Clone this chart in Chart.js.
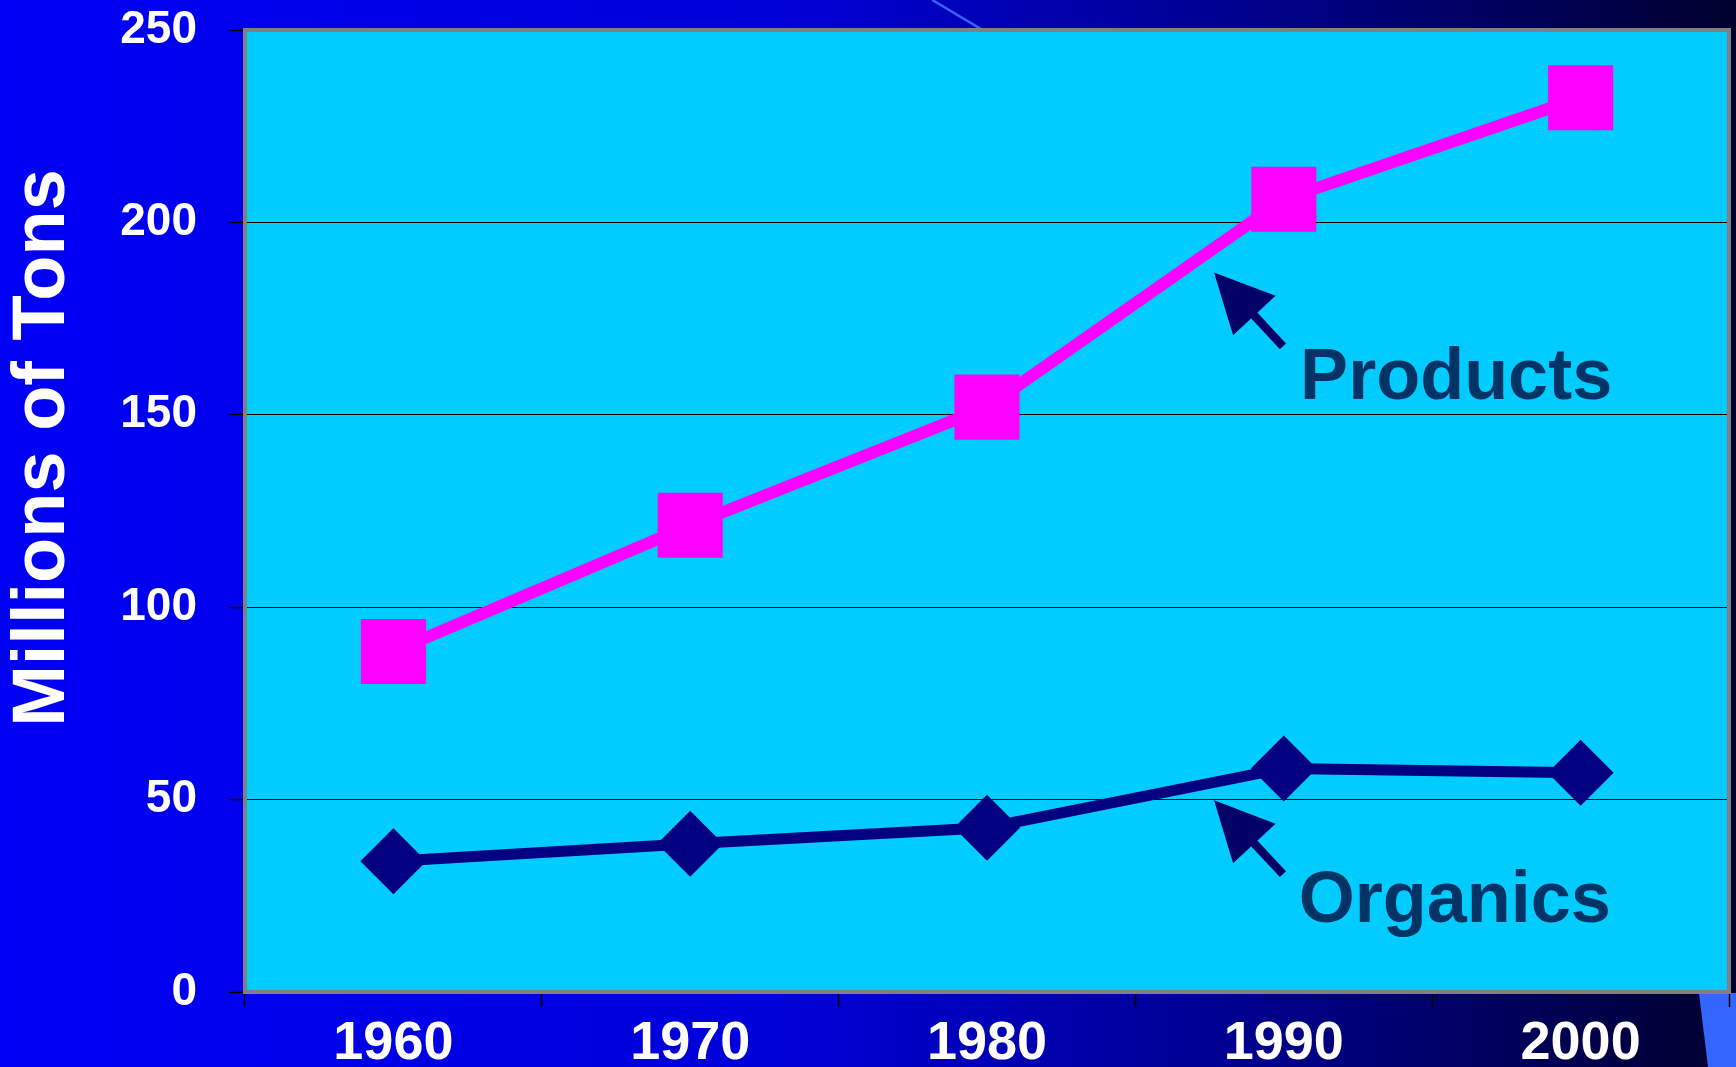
<!DOCTYPE html>
<html>
<head>
<meta charset="utf-8">
<script src="https://cdn.jsdelivr.net/npm/chart.js@4"></script>
<style>
  html, body { margin: 0; padding: 0; background: #000080; }
  #wrap { width: 1736px; height: 1067px; position: relative; }
  canvas { display: block; }
</style>
</head>
<body>
<div id="wrap"><canvas id="c" width="1736" height="1067"></canvas></div>
<script>
// ---- data ----
const categories = ['1960', '1970', '1980', '1990', '2000'];
const productsValues = [88.5, 121.3, 152.0, 206.0, 232.4];
const organicsValues = [34.0, 38.5, 42.7, 58.1, 57.0];
const seriesNames = ['Products', 'Organics'];
const yTickValues = [0, 50, 100, 150, 200, 250];
const yAxisTitle = 'Millions of Tons';

// ---- plugins (decoration / annotations) ----
const backgroundPlugin = {
  id: 'slideBackground',
  beforeDraw(chart) {
    const ctx = chart.ctx, W = chart.width, H = chart.height;
    ctx.save();
    const g = ctx.createLinearGradient(0, 0, W, 0);
    g.addColorStop(0, '#0000F6');
    g.addColorStop(0.45, '#0000D8');
    g.addColorStop(0.55, '#0000BC');
    g.addColorStop(0.75, '#000084');
    g.addColorStop(1, '#00002E');
    ctx.fillStyle = g;
    ctx.fillRect(0, 0, W, H);
    // decorative diagonal line at top
    ctx.strokeStyle = '#3366FF';
    ctx.lineWidth = 2.5;
    ctx.beginPath();
    ctx.moveTo(W * 0.537, 0);
    ctx.lineTo(W * 0.566, chart.chartArea.top);
    ctx.stroke();
    // decorative wedge bottom right
    ctx.fillStyle = '#3366FF';
    ctx.beginPath();
    ctx.moveTo(W - 37, chart.chartArea.bottom + 1);
    ctx.lineTo(W, chart.chartArea.bottom + 1);
    ctx.lineTo(W, H);
    ctx.lineTo(W - 28, H);
    ctx.closePath();
    ctx.fill();
    // plot area fill
    const a = chart.chartArea;
    ctx.fillStyle = '#00CCFF';
    ctx.fillRect(a.left, a.top, a.right - a.left, a.bottom - a.top);
    ctx.restore();
  },
  afterDatasetsDraw(chart) {
    const ctx = chart.ctx, a = chart.chartArea;
    ctx.save();
    ctx.strokeStyle = '#808080';
    ctx.lineWidth = 4;
    ctx.strokeRect(a.left, a.top, a.right - a.left, a.bottom - a.top);
    ctx.restore();
  }
};

const axisTitlePlugin = {
  id: 'axisTitle',
  afterDraw(chart, args, opts) {
    const ctx = chart.ctx, a = chart.chartArea;
    ctx.save();
    ctx.translate(opts.x, (a.top + a.bottom) / 2 + opts.dy);
    ctx.rotate(-Math.PI / 2);
    ctx.fillStyle = '#FFFFFF';
    ctx.font = 'bold 74px "Liberation Sans", Arial, sans-serif';
    ctx.textAlign = 'center';
    ctx.textBaseline = 'middle';
    ctx.fillText(opts.text, 0, 0);
    ctx.restore();
  }
};

const arrowLabelPlugin = {
  id: 'arrowLabels',
  afterDatasetsDraw(chart, args, opts) {
    const ctx = chart.ctx;
    const xs = chart.scales.x, ys = chart.scales.y;
    opts.items.forEach(it => {
      const tx = xs.getPixelForValue(it.tipCat);
      const ty = ys.getPixelForValue(it.tipVal);
      const ang = Math.atan2(74.3, 69.3);
      const dx = Math.cos(ang), dy = Math.sin(ang);
      const headLen = 59, headHalf = 29, shaftLen = 101, shaftHalf = 4.2;
      const bx = tx + dx * headLen, by = ty + dy * headLen;
      const px = -dy, py = dx;
      ctx.save();
      ctx.fillStyle = '#000066';
      ctx.beginPath();
      ctx.moveTo(bx - dx * 4 + px * shaftHalf, by - dy * 4 + py * shaftHalf);
      ctx.lineTo(tx + dx * shaftLen + px * shaftHalf, ty + dy * shaftLen + py * shaftHalf);
      ctx.lineTo(tx + dx * shaftLen - px * shaftHalf, ty + dy * shaftLen - py * shaftHalf);
      ctx.lineTo(bx - dx * 4 - px * shaftHalf, by - dy * 4 - py * shaftHalf);
      ctx.closePath();
      ctx.fill();
      ctx.beginPath();
      ctx.moveTo(tx, ty);
      ctx.lineTo(bx + px * headHalf, by + py * headHalf);
      ctx.lineTo(bx - px * headHalf, by - py * headHalf);
      ctx.closePath();
      ctx.fill();
      ctx.fillStyle = '#003366';
      ctx.font = 'bold 72px "Liberation Sans", Arial, sans-serif';
      ctx.textAlign = 'left';
      ctx.textBaseline = 'alphabetic';
      ctx.fillText(it.text, xs.getPixelForValue(it.textCat), ys.getPixelForValue(it.textVal));
      ctx.restore();
    });
  }
};

// ---- chart ----
new Chart(document.getElementById('c'), {
  type: 'line',
  data: {
    labels: categories,
    datasets: [
      {
        label: seriesNames[0],
        data: productsValues,
        borderColor: '#FF00FF',
        backgroundColor: '#FF00FF',
        borderWidth: 12,
        pointStyle: 'rect',
        pointRadius: 46,
        pointHoverRadius: 46,
        pointBorderWidth: 0,
        pointBackgroundColor: '#FF00FF',
        tension: 0,
        clip: false
      },
      {
        label: seriesNames[1],
        data: organicsValues,
        borderColor: '#000080',
        backgroundColor: '#000080',
        borderWidth: 11,
        pointStyle: 'rectRot',
        pointRadius: 33,
        pointHoverRadius: 33,
        pointBorderWidth: 0,
        pointBackgroundColor: '#000080',
        tension: 0,
        clip: false
      }
    ]
  },
  options: {
    responsive: false,
    animation: false,
    events: [],
    layout: { autoPadding: false, padding: { top: 30, right: 7, left: 0, bottom: 0 } },
    plugins: {
      legend: { display: false },
      tooltip: { enabled: false },
      axisTitle: { text: yAxisTitle, x: 44, dy: -63 },
      arrowLabels: {
        items: [
          { text: seriesNames[0], tipCat: 2.765, tipVal: 187, textCat: 3.055, textVal: 154 },
          { text: seriesNames[1], tipCat: 2.765, tipVal: 49.8, textCat: 3.05, textVal: 18.2 }
        ]
      }
    },
    scales: {
      x: {
        type: 'category',
        offset: true,
        afterFit(scale) {
          scale.height = 75;
          scale.paddingLeft = 0; scale.paddingRight = 0;
          scale.paddingTop = 0; scale.paddingBottom = 0;
        },
        grid: {
          offset: true,
          drawOnChartArea: false,
          drawTicks: true,
          tickLength: 15,
          tickColor: '#000000',
          tickWidth: 1.5
        },
        border: { display: false },
        ticks: {
          color: '#FFFFFF',
          padding: 5,
          font: { family: '"Liberation Sans", Arial, sans-serif', size: 54, weight: 'bold' }
        }
      },
      y: {
        min: 0,
        max: 250,
        afterFit(scale) {
          scale.width = 245;
          scale.paddingLeft = 0; scale.paddingRight = 0;
          scale.paddingTop = 0; scale.paddingBottom = 0;
        },
        afterBuildTicks(scale) { scale.ticks = yTickValues.map(v => ({ value: v })); },
        grid: {
          color: '#000000',
          lineWidth: 1,
          drawTicks: true,
          tickLength: 16,
          tickColor: '#000000',
          tickWidth: 1.5
        },
        border: { display: false },
        ticks: {
          color: '#FFFFFF',
          padding: 32,
          font: { family: '"Liberation Sans", Arial, sans-serif', size: 46, weight: 'bold' }
        }
      }
    }
  },
  plugins: [backgroundPlugin, axisTitlePlugin, arrowLabelPlugin]
});
</script>
</body>
</html>
